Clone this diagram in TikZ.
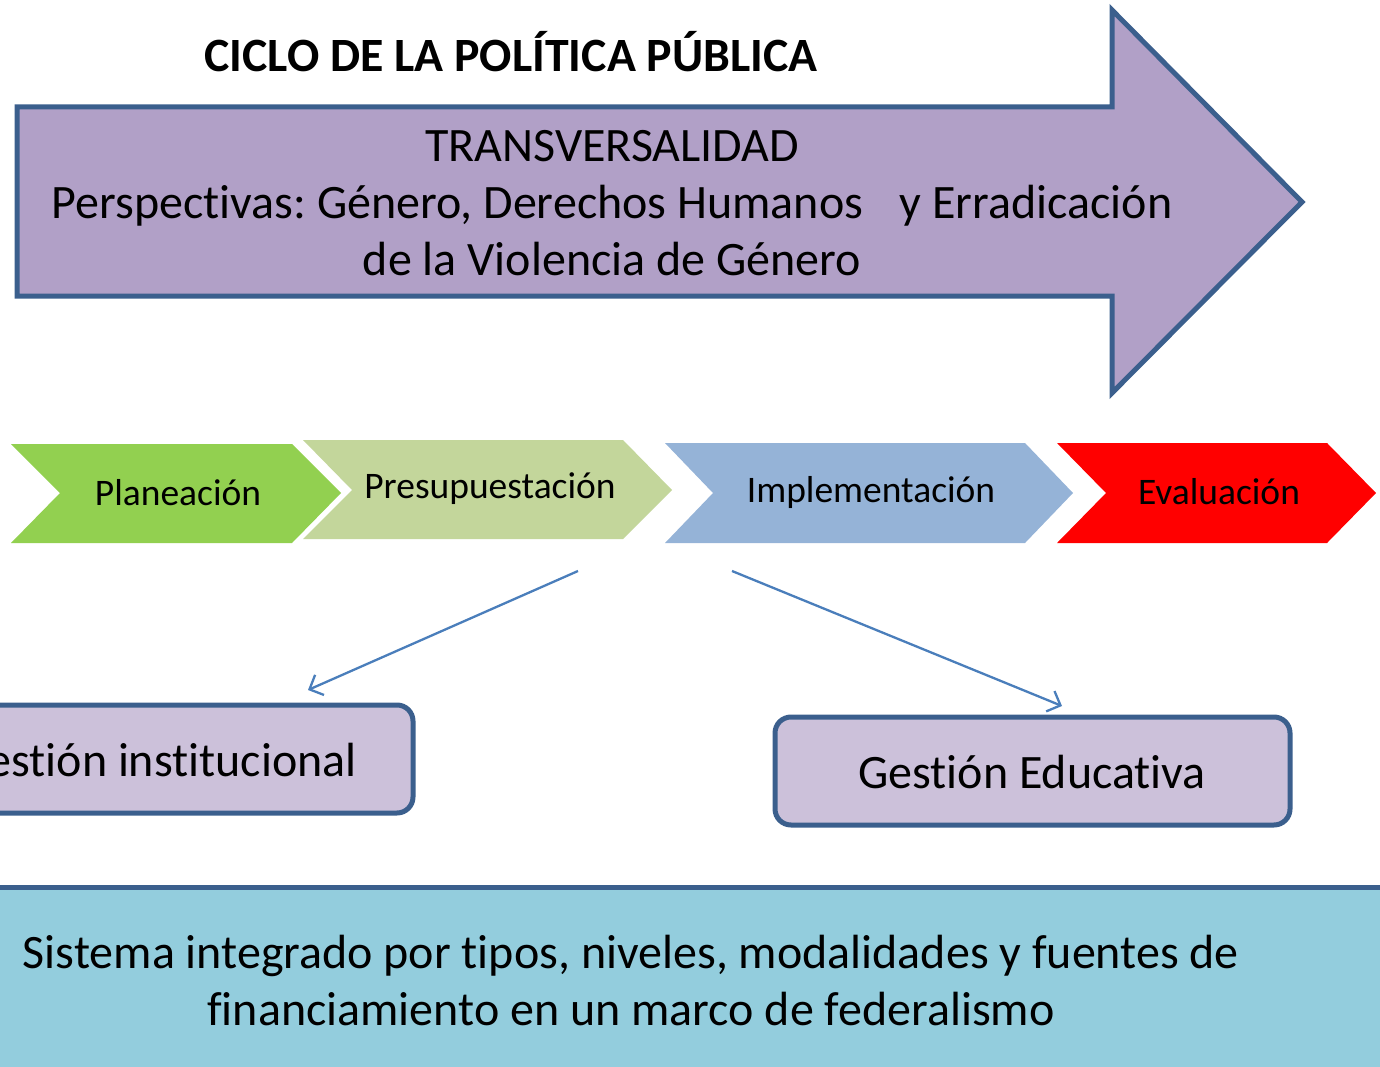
\documentclass[tikz,border=0pt]{standalone}
\usepackage{fontspec}
\setmainfont{Carlito}[Ligatures=NoCommon]
\frenchspacing
\usetikzlibrary{arrows.meta}
\definecolor{edgeblue}{HTML}{3B5F8D}
\definecolor{arrowfill}{HTML}{B1A0C7}
\definecolor{boxfill}{HTML}{CCC1DA}
\definecolor{bandfill}{HTML}{93CDDD}
\definecolor{planfill}{HTML}{92D050}
\definecolor{presfill}{HTML}{C3D69B}
\definecolor{implfill}{HTML}{95B3D7}
\definecolor{evalfill}{HTML}{FF0000}
\definecolor{connblue}{HTML}{4A7EBB}
\begin{document}
\begin{tikzpicture}[x=1pt,y=-1pt,
  bigtext/.style={font=\fontsize{48}{57}\selectfont, align=center, inner sep=0pt},
  chevtext/.style={font=\fontsize{37.5}{42}\selectfont, inner sep=0pt},
  gbox/.style={draw=edgeblue, fill=boxfill, line width=5pt, rounded corners=16pt},
  conn/.style={draw=connblue, line width=2.3pt, -{Straight Barb[length=11pt,width=22pt,line width=2.3pt]}}]
\useasboundingbox (0,0) rectangle (1380,1067);
\clip (0,0) rectangle (1380,1067);
% title
\node[bigtext, font=\fontsize{47.8}{57}\selectfont\bfseries] (title) at (511,52) {CICLO DE LA POLÍTICA PÚBLICA};
% big arrow
\draw[draw=edgeblue, fill=arrowfill, line width=5pt, miter limit=20]
  (17,107) -- (1112,107) -- (1112,10) -- (1302,202) -- (1112,393) -- (1112,296) -- (17,296) -- cycle;
\node[bigtext] (trans) at (612,203) {TRANSVERSALIDAD\\Perspectivas: Género, Derechos Humanos\hspace{26pt} y Erradicación\\de la Violencia de Género};
% chevrons
\fill[planfill] (11,444) -- (292,444) -- (341,493) -- (292,543) -- (11,543) -- (60,493) -- cycle;
\fill[presfill] (303,440) -- (623,440) -- (672,490) -- (623,539) -- (303,539) -- (352,490) -- cycle;
\fill[implfill] (665,443) -- (1025,443) -- (1073,493) -- (1025,543) -- (665,543) -- (713,493) -- cycle;
\fill[evalfill] (1057,443) -- (1327,443) -- (1376,493) -- (1327,543) -- (1057,543) -- (1106,493) -- cycle;
\node[chevtext] (plan) at (178,493) {Planeación};
\node[chevtext] (pres) at (490,489) {Presupuestación};
\node[chevtext] (impl) at (871,492) {Implementación};
\node[chevtext] (eval) at (1219,492) {Evaluación};
% boxes
\draw[gbox] (-99,705) rectangle (413,813);
\node[bigtext] (ginst) at (157,760) {Gestión institucional};
\draw[gbox] (775,717) rectangle (1290,825);
\node[bigtext] (gedu) at (1032,772) {Gestión Educativa};
% connectors
\coordinate (s1) at (578,571);
\coordinate (e1) at (308,690);
\coordinate (s2) at (732,571);
\coordinate (e2) at (1062,706);
\draw[conn] (s1) -- (e1);
\draw[conn] (s2) -- (e2);
% bottom band
\draw[draw=edgeblue, fill=bandfill, line width=5pt] (-20,887) rectangle (1400,1069);
\node[bigtext] (band) at (631,980) {Sistema integrado por tipos, niveles, modalidades y fuentes de\\financiamiento en un marco de federalismo};
\end{tikzpicture}
\end{document}
